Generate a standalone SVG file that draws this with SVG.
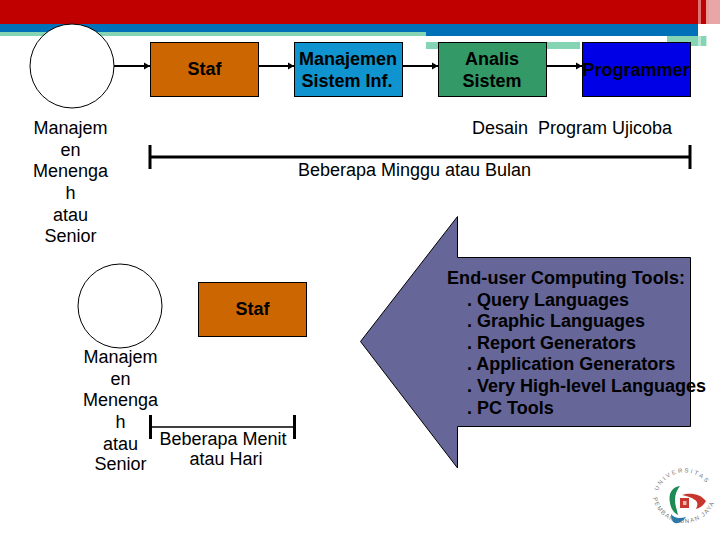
<svg xmlns="http://www.w3.org/2000/svg" width="720" height="540" viewBox="0 0 720 540">
<style>
text{font-family:"Liberation Sans",Arial,sans-serif;font-size:18px;fill:#000}
.c{text-anchor:middle}
.b{font-weight:bold}
.box{stroke:#000;stroke-width:1}
.circle{fill:#fff;stroke:#000;stroke-width:1}
.conn{stroke:#000;stroke-width:2;fill:none;marker-end:url(#ah)}
.br{stroke:#000;fill:none}
.seal{font-size:6px;fill:#777;letter-spacing:1.9px}
.seal2{font-size:6px;fill:#777;letter-spacing:1.2px}
</style>
<defs>
<marker id="ah" markerUnits="userSpaceOnUse" markerWidth="7" markerHeight="8" refX="6" refY="4" orient="auto"><path d="M0 0.5L6 4L0 7.5Z" fill="#000"/></marker>
<path id="sealTop" d="M658 491A28 28 0 0 1 711 492"/>
<path id="sealBot" d="M653 498A32 32 0 0 0 716 495"/>
</defs>
<g id="header">
<rect width="720" height="24" fill="#c00000"/>
<rect y="24" width="698" height="8" fill="#0070b8"/>
<rect y="32" width="426" height="4" fill="#85d5b5"/>
<rect x="426" y="32" width="272" height="4" fill="#0070b8"/>
<rect x="426" y="42" width="154" height="7" fill="#85d5b5"/>
<rect x="667" y="36" width="40" height="10" fill="#85d5b5"/>
<rect x="698" y="0" width="3" height="46" fill="#fff" opacity=".45"/>
<rect x="706" y="0" width="3" height="46" fill="#fff" opacity=".6"/>
<rect x="709" y="0" width="11" height="48" fill="#fff" opacity=".65"/>
</g>
<g id="connectors">
<line class="conn" x1="114" y1="66" x2="150" y2="66"/>
<line class="conn" x1="258" y1="66" x2="294" y2="66"/>
<line class="conn" x1="402" y1="66" x2="438" y2="66"/>
<line class="conn" x1="546" y1="66" x2="582" y2="66"/>
</g>
<g id="manajer-1">
<circle class="circle" cx="72" cy="66" r="42"/>
<text class="c" x="70.500" y="134">Manajem</text>
<text class="c" x="70.500" y="156">en</text>
<text class="c" x="70.500" y="177">Menenga</text>
<text class="c" x="70.500" y="199">h</text>
<text class="c" x="70.500" y="221">atau</text>
<text class="c" x="70.500" y="242">Senior</text>
</g>
<g id="staf-1">
<rect class="box" x="150.500" y="42.500" width="108" height="54" fill="#cc6600"/>
<text class="c b" x="204.500" y="75">Staf</text>
</g>
<g id="manajemen">
<rect class="box" x="294.500" y="42.500" width="108" height="54" fill="#0f94cf"/>
<text class="c b" x="348" y="65">Manajemen</text>
<text class="c b" x="347" y="87">Sistem Inf.</text>
</g>
<g id="analis">
<rect class="box" x="438.500" y="42.500" width="108" height="54" fill="#339966"/>
<text class="c b" x="492" y="65">Analis</text>
<text class="c b" x="492" y="87">Sistem</text>
</g>
<g id="programmer">
<rect class="box" x="582.500" y="42.500" width="108" height="54" fill="#0000e6"/>
<text class="c b" x="636" y="76">Programmer</text>
</g>
<g id="timeline-long">
<text x="472" y="134" style="white-space:pre">Desain  Program Ujicoba</text>
<path class="br" stroke-width="3" d="M150 157H690M150 145V169M690 145V169"/>
<text class="c" x="414.500" y="176">Beberapa Minggu atau Bulan</text>
</g>
<g id="manajer-2">
<circle class="circle" cx="120" cy="306" r="42"/>
<text class="c" x="120.500" y="363">Manajem</text>
<text class="c" x="120.500" y="385">en</text>
<text class="c" x="120.500" y="406">Menenga</text>
<text class="c" x="120.500" y="428">h</text>
<text class="c" x="120.500" y="450">atau</text>
<text class="c" x="120.500" y="470">Senior</text>
</g>
<g id="staf-2">
<rect class="box" x="198.500" y="282.500" width="108" height="54" fill="#cc6600"/>
<text class="c b" x="252.500" y="315">Staf</text>
</g>
<g id="timeline-short">
<path class="br" stroke-width="1.500" d="M150 427H294"/>
<path class="br" stroke-width="3" d="M150.500 415V439M294.500 415V439"/>
<text class="c" x="223" y="445">Beberapa Menit</text>
<text class="c" x="226" y="465">atau Hari</text>
</g>
<g id="tools">
<polygon points="360.500,341.500 457.500,216.500 457.500,257.500 690.500,257.500 690.500,426.500 457.500,426.500 457.500,468" fill="#666699" stroke="#000" stroke-width="1"/>
<text class="b" x="447" y="284" textLength="238">End-user Computing Tools:</text>
<text class="b" x="467" y="306">. Query Languages</text>
<text class="b" x="467" y="327">. Graphic Languages</text>
<text class="b" x="467" y="349">. Report Generators</text>
<text class="b" x="467" y="370">. Application Generators</text>
<text class="b" x="467" y="392">. Very High-level Languages</text>
<text class="b" x="467" y="414">. PC Tools</text>
</g>
<g id="logo">
<path d="M680 486C672 487 668 494 670 503C671 509 674 513 678 515C677 510 675 505 675 500C675 494 677 490 680 486Z" fill="#1e8a55"/>
<path d="M682 495C690 492 701 494 706 501C703 506 700 508 696 509C698 505 698 502 695 500C691 497 686 496 682 495Z" fill="#c8372d"/>
<path d="M671 514C674 518 679 519 686 517C683 521 679 524 675 523C672 522 671 518 671 514Z" fill="#1d78b5"/>
<rect x="680" y="498" width="9" height="10" fill="#c8372d"/>
<rect x="683" y="501" width="3.500" height="4" fill="#eeb9b0"/>
<text class="seal"><textPath href="#sealTop">UNIVERSITAS</textPath></text>
<text class="seal2"><textPath href="#sealBot">PEMBANGUNAN JAYA</textPath></text>
</g>
</svg>
